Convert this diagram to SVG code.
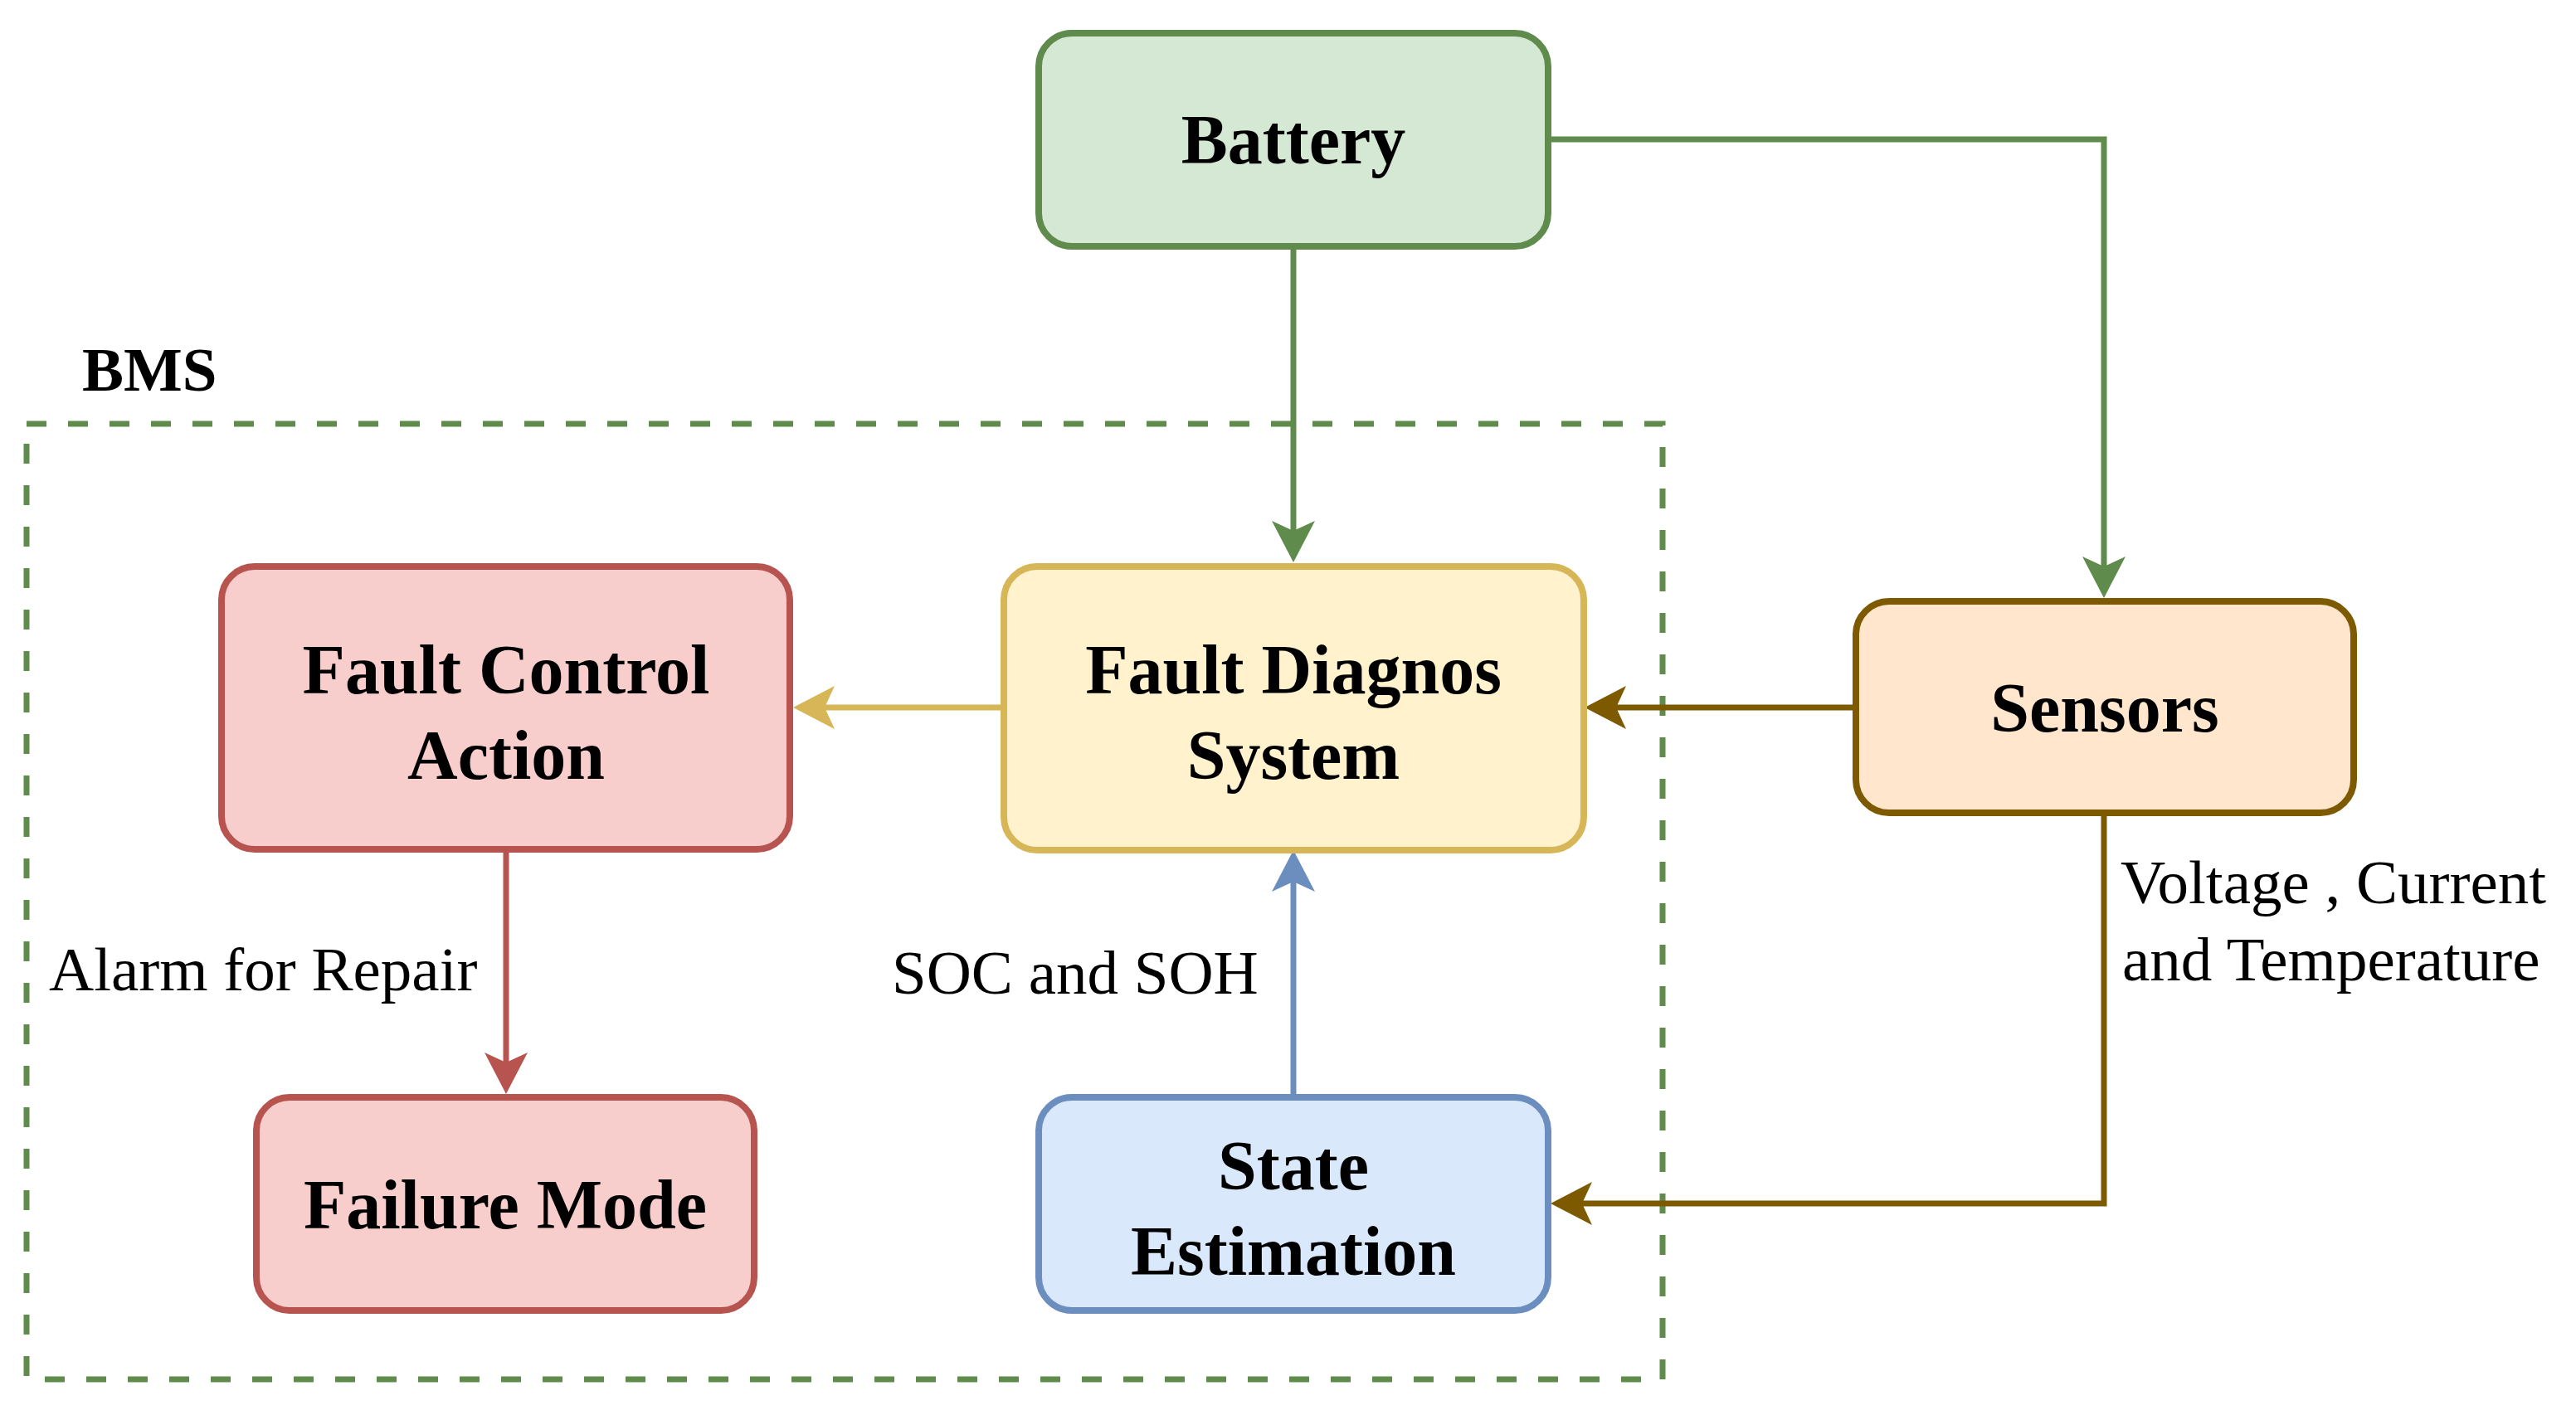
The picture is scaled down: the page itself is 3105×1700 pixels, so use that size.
<svg xmlns="http://www.w3.org/2000/svg" width="3105" height="1700" viewBox="0 0 3105 1700">
<style>
.b{font-family:"Liberation Serif","Times New Roman",serif;font-weight:bold;font-size:84px;fill:#000;text-anchor:middle}
.l{font-family:"Liberation Serif","Times New Roman",serif;font-size:75px;fill:#000}
.n{stroke-width:8}
.c{fill:none;stroke-width:7}
</style>
<defs>
<marker id="ag" markerUnits="userSpaceOnUse" markerWidth="56" markerHeight="58" viewBox="0 -29 56 58" refX="12" refY="0" orient="auto"><path d="M50,0 L0,-26 L12,0 L0,26 Z" fill="#5f8b4c"/></marker>
<marker id="ay" markerUnits="userSpaceOnUse" markerWidth="56" markerHeight="58" viewBox="0 -29 56 58" refX="12" refY="0" orient="auto"><path d="M50,0 L0,-26 L12,0 L0,26 Z" fill="#d6b656"/></marker>
<marker id="ar" markerUnits="userSpaceOnUse" markerWidth="56" markerHeight="58" viewBox="0 -29 56 58" refX="12" refY="0" orient="auto"><path d="M50,0 L0,-26 L12,0 L0,26 Z" fill="#b85450"/></marker>
<marker id="ab" markerUnits="userSpaceOnUse" markerWidth="56" markerHeight="58" viewBox="0 -29 56 58" refX="12" refY="0" orient="auto"><path d="M50,0 L0,-26 L12,0 L0,26 Z" fill="#6c8ebf"/></marker>
<marker id="ao" markerUnits="userSpaceOnUse" markerWidth="56" markerHeight="58" viewBox="0 -29 56 58" refX="12" refY="0" orient="auto"><path d="M50,0 L0,-26 L12,0 L0,26 Z" fill="#7d5a00"/></marker>
</defs>
<rect width="3105" height="1700" fill="#fff"/>
<g id="bms">
<rect x="32" y="511" width="1972" height="1152" fill="none" stroke="#5f8b4c" stroke-width="7" stroke-dasharray="24 26"/>
<text x="99" y="471" class="b" style="text-anchor:start;font-size:75px">BMS</text>
</g>
<g id="connectors">
<path class="c" stroke="#5f8b4c" d="M1559,297 V640" marker-end="url(#ag)"/>
<path class="c" stroke="#5f8b4c" d="M1866,168 H2536 V683" marker-end="url(#ag)"/>
<path class="c" stroke="#7d5a00" d="M2237,853 H1948" marker-end="url(#ao)"/>
<path class="c" stroke="#d6b656" d="M1210,853 H994" marker-end="url(#ay)"/>
<path class="c" stroke="#b85450" d="M610,1024 V1281" marker-end="url(#ar)"/>
<path class="c" stroke="#6c8ebf" d="M1559,1323 V1063" marker-end="url(#ab)"/>
<path class="c" stroke="#7d5a00" d="M2536,980 V1451 H1907" marker-end="url(#ao)"/>
<text class="l" x="59" y="1194">Alarm for Repair</text>
<text class="l" x="1075" y="1198">SOC and SOH</text>
<text class="l" x="2556" y="1089">Voltage , Current</text>
<text class="l" x="2558" y="1182">and Temperature</text>
</g>
<g id="battery">
<rect class="n" x="1252" y="40" width="614" height="257" rx="40" fill="#d5e8d4" stroke="#5f8b4c"/>
<text class="b" x="1559" y="197">Battery</text>
</g>
<g id="fault-control-action">
<rect class="n" x="267" y="683" width="685" height="341" rx="40" fill="#f8cecc" stroke="#b85450"/>
<text class="b" x="610" y="836">Fault Control</text>
<text class="b" x="610" y="939">Action</text>
</g>
<g id="fault-diagnos-system">
<rect class="n" x="1210" y="683" width="699" height="342" rx="40" fill="#fff2cc" stroke="#d6b656"/>
<text class="b" x="1559" y="836">Fault Diagnos</text>
<text class="b" x="1559" y="939">System</text>
</g>
<g id="sensors">
<rect class="n" x="2237" y="725" width="600" height="255" rx="40" fill="#ffe6cc" stroke="#7d5a00"/>
<text class="b" x="2537" y="882">Sensors</text>
</g>
<g id="failure-mode">
<rect class="n" x="309" y="1323" width="600" height="257" rx="40" fill="#f8cecc" stroke="#b85450"/>
<text class="b" x="609" y="1481">Failure Mode</text>
</g>
<g id="state-estimation">
<rect class="n" x="1252" y="1323" width="614" height="257" rx="40" fill="#dae8fc" stroke="#6c8ebf"/>
<text class="b" x="1559" y="1434">State</text>
<text class="b" x="1559" y="1537">Estimation</text>
</g>
</svg>
